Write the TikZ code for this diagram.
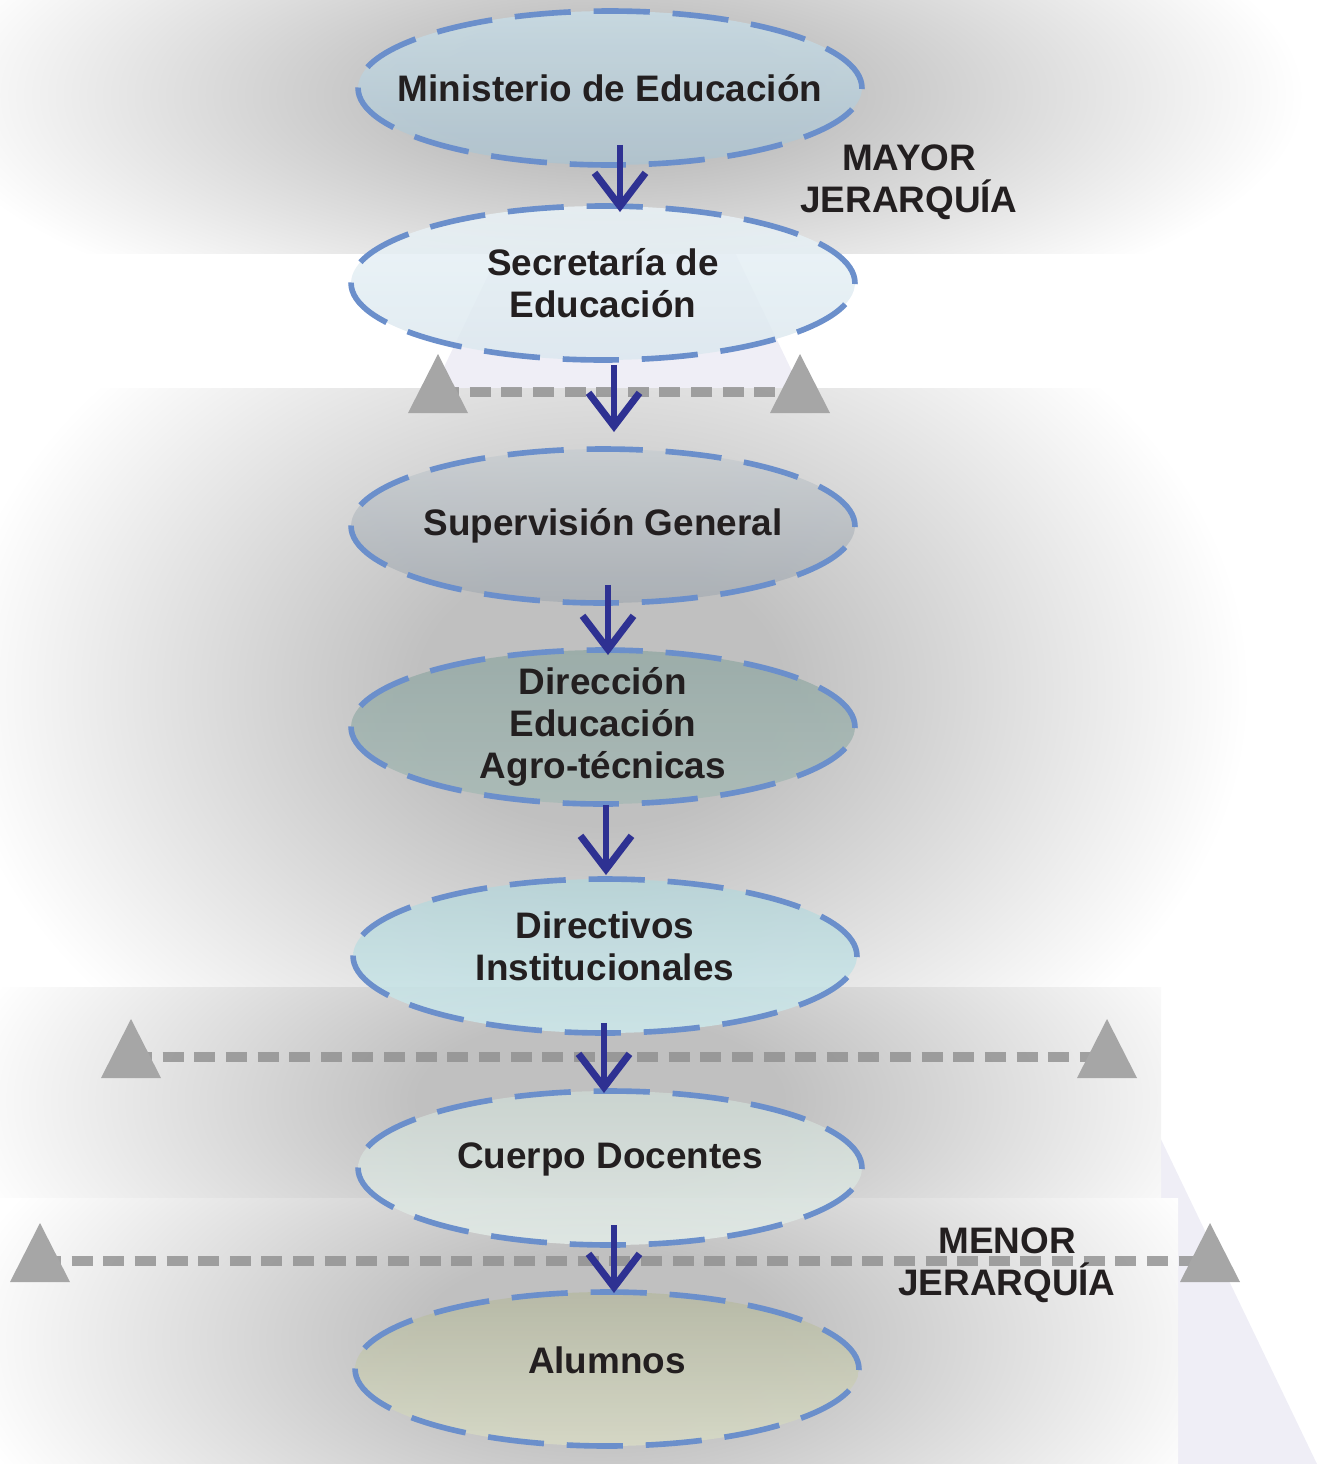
\documentclass[tikz,border=0pt]{standalone}
\usepackage{fontspec}
\setmainfont{Liberation Sans}
\usetikzlibrary{arrows.meta,shapes.geometric}
\definecolor{azul}{HTML}{2E3192}
\definecolor{borde}{HTML}{6B8FCB}
\definecolor{gristri}{HTML}{A6A6A6}
\definecolor{grislin}{HTML}{8E8E8E}
\definecolor{lavanda}{HTML}{EFEEF6}
\definecolor{sombragris}{HTML}{C0C0C0}
\definecolor{texto}{HTML}{231F20}
\definecolor{min1}{HTML}{C8DCE5}\definecolor{min2}{HTML}{AEC3CF}
\definecolor{sec1}{HTML}{E9F2F6}\definecolor{sec2}{HTML}{DCE8EF}
\definecolor{sup1}{HTML}{C8CDD1}\definecolor{sup2}{HTML}{A8AEB4}
\definecolor{dir1}{HTML}{96AAA6}\definecolor{dir2}{HTML}{A8BAB6}
\definecolor{dii1}{HTML}{B7D5D9}\definecolor{dii2}{HTML}{CDE9EC}
\definecolor{doc1}{HTML}{CDD8D3}\definecolor{doc2}{HTML}{E3ECE8}
\definecolor{alu1}{HTML}{B6B9A3}\definecolor{alu2}{HTML}{D8DBC6}
\pgfdeclareradialshading{sombra}{\pgfpoint{0bp}{0bp}}{color(0bp)=(sombragris); color(7bp)=(sombragris); color(25bp)=(white); color(50bp)=(white)}
\newcommand\marca[1]{\fill[gristri] ([shift={(-30,21)}]#1) -- ([shift={(0,-38)}]#1) -- ([shift={(30,21)}]#1) -- cycle;}
\tikzset{
  nivel/.style={ellipse, minimum width=10.08cm, minimum height=3.08cm, inner xsep=-45pt, inner ysep=-14pt,
    outer sep=0pt, draw=borde, line width=3.2pt, dash pattern=on 32pt off 13pt, fill opacity=0.85,
    text opacity=1, align=center, text=texto, font=\bfseries\fontsize{21}{24}\selectfont},
  alto/.style={text depth=#1},
  flecha/.style={azul, line width=3.6pt, -{Straight Barb[length=19pt,width=29pt,line width=4pt]}},
  jerarquia/.style={grislin, opacity=0.8, line width=5.7pt, dash pattern=on 12pt off 6pt},
  etiqueta/.style={align=center, text=texto, font=\bfseries\fontsize{21}{24}\selectfont}
}
\begin{document}
\begin{tikzpicture}[x=0.02cm, y=-0.02cm]
\useasboundingbox (0,0) rectangle (1328,1464);
% fondo
\fill[lavanda] (617,7) -- (1317,1464) -- (-83,1464) -- cycle;
\begin{scope}
\clip (0,0) rectangle (1328,253);
\fill[white] (0,0) rectangle (1328,253);
\shade[shading=sombra] (615,95) ellipse [x radius=13.8cm, y radius=5cm];
\end{scope}
\begin{scope}
\clip (0,388) rectangle (1328,987);
\fill[white] (0,388) rectangle (1328,987);
\shade[shading=sombra] (600,690) ellipse [x radius=13cm, y radius=9.6cm];
\end{scope}
\begin{scope}
\clip (0,987) rectangle (1161,1198);
\fill[white] (0,987) rectangle (1161,1198);
\shade[shading=sombra] (600,1100) ellipse [x radius=13cm, y radius=6cm];
\end{scope}
\begin{scope}
\clip (0,1198) rectangle (1178,1464);
\fill[white] (0,1198) rectangle (1178,1464);
\shade[shading=sombra] (600,1340) ellipse [x radius=13cm, y radius=6.4cm];
\end{scope}
% lineas de jerarquia
\coordinate (a1) at (438,392);
\coordinate (b1) at (800,392);
\coordinate (a2) at (131,1057);
\coordinate (b2) at (1107,1057);
\coordinate (a3) at (40,1261);
\coordinate (b3) at (1210,1261);
\draw[jerarquia] (a1) -- (b1);
\draw[jerarquia] (a2) -- (b2);
\draw[jerarquia] (a3) -- (b3);
\marca{a1} \marca{b1}
\marca{a2} \marca{b2}
\marca{a3} \marca{b3}
% niveles
\node[nivel, top color=min1, bottom color=min2] (min) at (610,88) {Ministerio de Educación};
\node[nivel, top color=sec1, bottom color=sec2] (sec) at (603,283) {Secretaría de\\Educación};
\node[nivel, top color=sup1, bottom color=sup2] (sup) at (603,526) {Supervisión General};
\node[nivel, top color=dir1, bottom color=dir2] (dir) at (603,727) {Dirección\\Educación\\Agro-técnicas};
\node[nivel, alto=11pt, top color=dii1, bottom color=dii2] (dii) at (605,956) {Directivos\\Institucionales};
\node[nivel, alto=14pt, top color=doc1, bottom color=doc2] (doc) at (610,1168) {Cuerpo Docentes};
\node[nivel, alto=10pt, top color=alu1, bottom color=alu2] (alu) at (607,1369) {Alumnos};
\node[etiqueta] (mayor) at (909,182) {MAYOR\\JERARQUÍA};
\node[etiqueta] (menor) at (1007,1265) {MENOR\\JERARQUÍA};
% flechas
\draw[flecha] ([shift={(10,-20)}]min.south) -- ([shift={(17,6)}]sec.north);
\draw[flecha] ([shift={(11,5)}]sec.south) -- ([shift={(11,-17)}]sup.north);
\draw[flecha] ([shift={(5,-18)}]sup.south) -- ([shift={(5,5)}]dir.north);
\draw[flecha] ([shift={(3,1)}]dir.south) -- ([shift={(1,-4)}]dii.north);
\draw[flecha] ([shift={(-1,-10)}]dii.south) -- ([shift={(-6,2)}]doc.north);
\draw[flecha] ([shift={(4,-20)}]doc.south) -- ([shift={(7,1)}]alu.north);
\end{tikzpicture}
\end{document}
